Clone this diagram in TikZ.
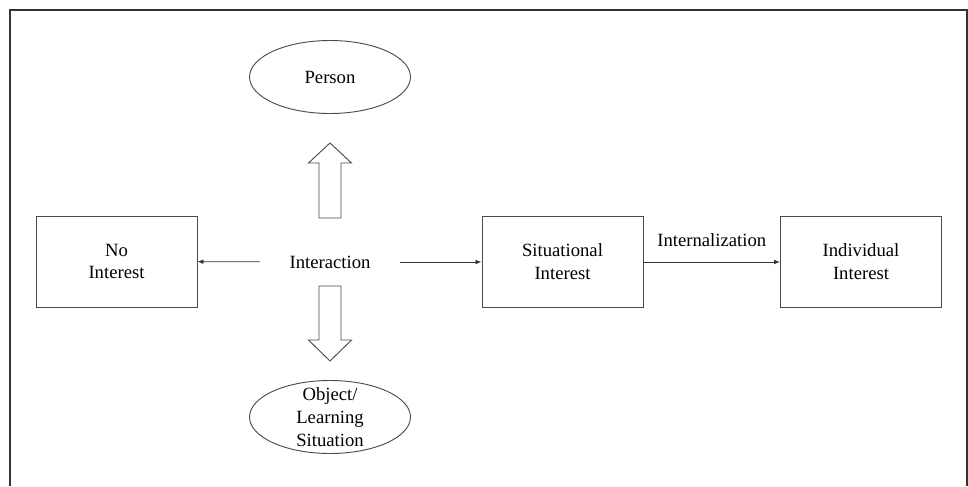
\documentclass[tikz,border=0pt]{standalone}
\usepackage{fontspec}
\setmainfont{Liberation Serif}
\usetikzlibrary{positioning,arrows.meta,shapes.geometric}

\begin{document}
\begin{tikzpicture}[x=0.75pt,y=-0.75pt,
		>={Latex[length=4.5pt,width=3.5pt]},
		font=\fontsize{14}{17}\selectfont,
		box/.style={rectangle, draw=black!70, line width=0.7pt, minimum width=120.75pt, minimum height=68.25pt, align=center},
		oval/.style={ellipse, draw=black!70, line width=0.7pt, minimum width=120.75pt, minimum height=54.75pt, inner sep=0pt, align=center},
		blockarrow/.style={draw=black!70, line width=0.7pt, fill=white, line join=miter},
		link/.style={->, draw=black!80, line width=0.6pt}]
		\useasboundingbox (0,0) rectangle (968,486);
		\draw [black!80, line width=1.5pt] (10,486) -- (10,10) -- (967,10) -- (967,486);
		% middle row
		\node at (330,262) [inner xsep=22pt, inner ysep=2pt] (inter) {Interaction};
		\node at (116.5,261.5) [box] (noint) {No\\Interest};
		\node at (562.5,261.5) [box] (sitint) {Situational\\Interest};
		\node at (861,261.5) [box] (indint) {Individual\\Interest};
		% ovals
		\node at (330,77) [oval] (person) {Person};
		\node at (330,417) [oval, inner ysep=-5.5pt] (object) {Object/\\Learning\\Situation};
		% block arrows
		\draw [blockarrow] (319,218) -- (319,163) -- (308.5,163) -- (330,143) -- (351.5,163) -- (341,163) -- (341,218) -- cycle;
		\draw [blockarrow] (319,286) -- (319,340) -- (308.5,340) -- (330,361) -- (351.5,340) -- (341,340) -- (341,286) -- cycle;
		% connectors
		\draw [link] (inter) -- (noint);
		\draw [link] (inter) -- (inter -| sitint.west);
		\draw [link] (sitint.east |- inter) -- node[above=8pt, black] {Internalization} (indint.west |- inter);
\end{tikzpicture}
\end{document}
